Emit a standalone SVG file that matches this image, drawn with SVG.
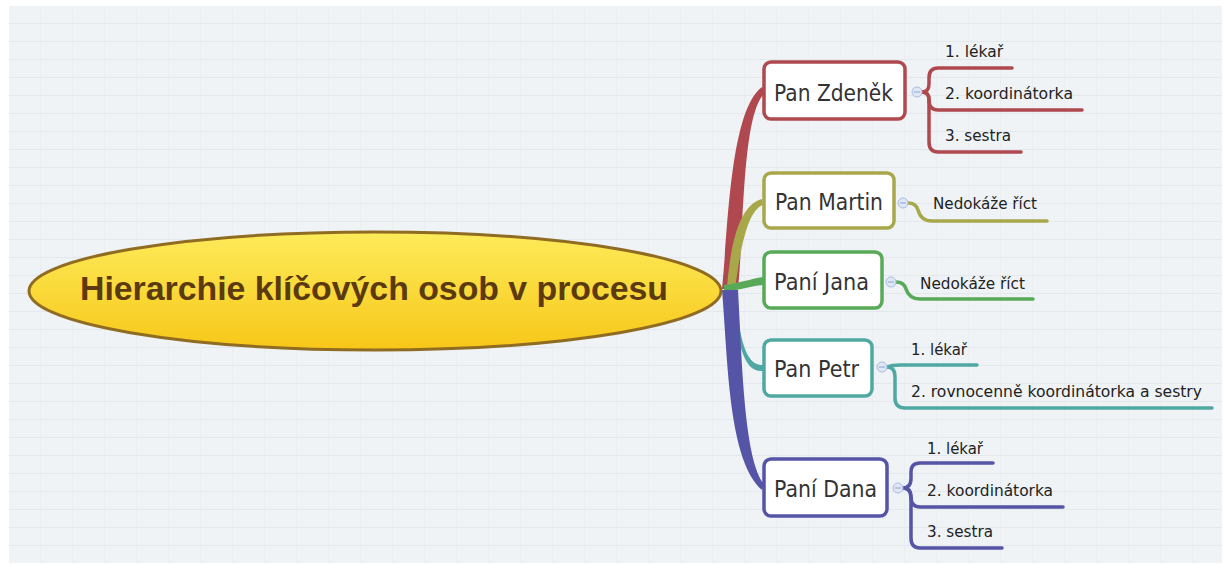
<svg xmlns="http://www.w3.org/2000/svg" width="1223" height="565" viewBox="0 0 1223 565">
<defs>
<pattern id="grid" x="9" y="6" width="32" height="18" patternUnits="userSpaceOnUse">
<rect width="32" height="18" fill="#eff3f6"/>
<line x1="0" y1="17.5" x2="32" y2="17.5" stroke="#e3e8ec" stroke-width="1"/>
<line x1="31.5" y1="0" x2="31.5" y2="18" stroke="#eaeef1" stroke-width="1"/>
</pattern>
<linearGradient id="yel" x1="0" y1="0" x2="0" y2="1">
<stop offset="0" stop-color="#fdeb5a"/>
<stop offset="1" stop-color="#f7c718"/>
</linearGradient>
<style>
.box{fill:#fff;stroke-width:3.5}
.lbl{font-family:"DejaVu Sans","Liberation Sans",sans-serif;font-size:23px;fill:#333}
.sub{font-family:"DejaVu Sans","Liberation Sans",sans-serif;font-size:16px;fill:#222}
.ln{fill:none;stroke-width:3.5;stroke-linecap:round}
.tog{fill:#dfe7f6;stroke:#a9bcdf;stroke-width:1}
.togm{stroke:#8fa3c9;stroke-width:1}
</style>
</defs>
<rect x="0" y="0" width="1223" height="565" fill="#ffffff"/>
<rect x="9" y="6" width="1213" height="557" fill="url(#grid)"/>

<g id="connectors">
<path d="M722,289 C728,230 730,110 762,87 L765,93 C742,112 744,230 738,289 Z" fill="#b0494f"/>
<path d="M727,287 C731,240 740,205 762,199 L763,205 C748,210 741,245 735,289 Z" fill="#a8a84b"/>
<path d="M724,285 C740,283 750,279 763,277 L763,285 C750,286 740,290 724,292 Z" fill="#58aa58"/>
<path d="M738,318 C742,345 748,366 763,365 L763,371 C746,373 740,350 734,318 Z" fill="#4fa9a2"/>
<path d="M722,290 C728,360 728,460 762,490 L764,484 C744,460 742,360 738,290 Z" fill="#5654a6"/>

<path class="ln" stroke="#b0494f" d="M922,92 Q929,92 929,84 L929,78 Q929,68 938,68 H1012"/>
<path class="ln" stroke="#b0494f" d="M922,92 Q929,92 929,100 Q929,110 938,110 H1082"/>
<path class="ln" stroke="#b0494f" d="M922,92 Q929,92 929,100 L929,142 Q929,152 938,152 H1021"/>
<path class="ln" stroke="#a8a84b" d="M908,203 Q916,203 918,210 Q921,221 932,221 H1047"/>
<path class="ln" stroke="#58aa58" d="M896,282 Q904,282 906,289 Q909,299 920,299 H1033"/>
<path class="ln" stroke="#4fa9a2" d="M887,367 Q892,365 900,365 H977"/>
<path class="ln" stroke="#4fa9a2" d="M887,367 Q895,367 895,377 L895,398 Q895,408 905,408 H1212"/>
<path class="ln" stroke="#5654a6" d="M903,488 Q911,488 911,478 L911,472 Q911,463 920,463 H993"/>
<path class="ln" stroke="#5654a6" d="M903,488 Q911,488 911,497 Q911,507 920,507 H1063"/>
<path class="ln" stroke="#5654a6" d="M903,488 Q911,488 911,498 L911,538 Q911,548 920,548 H1002"/>
</g>

<g id="root">
<ellipse cx="375" cy="291" rx="346" ry="59" fill="url(#yel)" stroke="#8f6c22" stroke-width="3"/>
<text x="374" y="300" text-anchor="middle" font-family="Liberation Sans, Arial, sans-serif" font-weight="bold" font-size="34" fill="#5a3a0e" textLength="588" lengthAdjust="spacingAndGlyphs">Hierarchie klíčových osob v procesu</text>
</g>

<g id="n-zdenek">
<rect class="box" x="764" y="62" width="141" height="57" rx="7" stroke="#b0494f"/>
<text class="lbl" x="774" y="101" textLength="119" lengthAdjust="spacingAndGlyphs">Pan Zdeněk</text>
<circle class="tog" cx="917" cy="92" r="5"/><line class="togm" x1="914" y1="92" x2="920" y2="92"/>
</g>
<g id="n-zdenek-1"><text class="sub" x="945" y="57" textLength="58" lengthAdjust="spacingAndGlyphs">1. lékař</text></g>
<g id="n-zdenek-2"><text class="sub" x="945" y="99" textLength="128" lengthAdjust="spacingAndGlyphs">2. koordinátorka</text></g>
<g id="n-zdenek-3"><text class="sub" x="945" y="141" textLength="66" lengthAdjust="spacingAndGlyphs">3. sestra</text></g>

<g id="n-martin">
<rect class="box" x="764" y="173" width="130" height="55" rx="7" stroke="#a8a84b"/>
<text class="lbl" x="775" y="210" textLength="108" lengthAdjust="spacingAndGlyphs">Pan Martin</text>
<circle class="tog" cx="903" cy="203" r="5"/><line class="togm" x1="900" y1="203" x2="906" y2="203"/>
</g>
<g id="n-martin-1"><text class="sub" x="933" y="209" textLength="104" lengthAdjust="spacingAndGlyphs">Nedokáže říct</text></g>

<g id="n-jana">
<rect class="box" x="764" y="252" width="118" height="56" rx="7" stroke="#58aa58"/>
<text class="lbl" x="774" y="290" textLength="95" lengthAdjust="spacingAndGlyphs">Paní Jana</text>
<circle class="tog" cx="891" cy="282" r="5"/><line class="togm" x1="888" y1="282" x2="894" y2="282"/>
</g>
<g id="n-jana-1"><text class="sub" x="920" y="289" textLength="105" lengthAdjust="spacingAndGlyphs">Nedokáže říct</text></g>

<g id="n-petr">
<rect class="box" x="764" y="340" width="108" height="56" rx="7" stroke="#4fa9a2"/>
<text class="lbl" x="774" y="377" textLength="85" lengthAdjust="spacingAndGlyphs">Pan Petr</text>
<circle class="tog" cx="882" cy="367" r="5"/><line class="togm" x1="879" y1="367" x2="885" y2="367"/>
</g>
<g id="n-petr-1"><text class="sub" x="911" y="355" textLength="56" lengthAdjust="spacingAndGlyphs">1. lékař</text></g>
<g id="n-petr-2"><text class="sub" x="911" y="397" textLength="291" lengthAdjust="spacingAndGlyphs">2. rovnocenně koordinátorka a sestry</text></g>

<g id="n-dana">
<rect class="box" x="764" y="459" width="123" height="57" rx="7" stroke="#5654a6"/>
<text class="lbl" x="774" y="497" textLength="103" lengthAdjust="spacingAndGlyphs">Paní Dana</text>
<circle class="tog" cx="898" cy="488" r="5"/><line class="togm" x1="895" y1="488" x2="901" y2="488"/>
</g>
<g id="n-dana-1"><text class="sub" x="927" y="454" textLength="56" lengthAdjust="spacingAndGlyphs">1. lékař</text></g>
<g id="n-dana-2"><text class="sub" x="927" y="496" textLength="126" lengthAdjust="spacingAndGlyphs">2. koordinátorka</text></g>
<g id="n-dana-3"><text class="sub" x="927" y="537" textLength="66" lengthAdjust="spacingAndGlyphs">3. sestra</text></g>
</svg>
